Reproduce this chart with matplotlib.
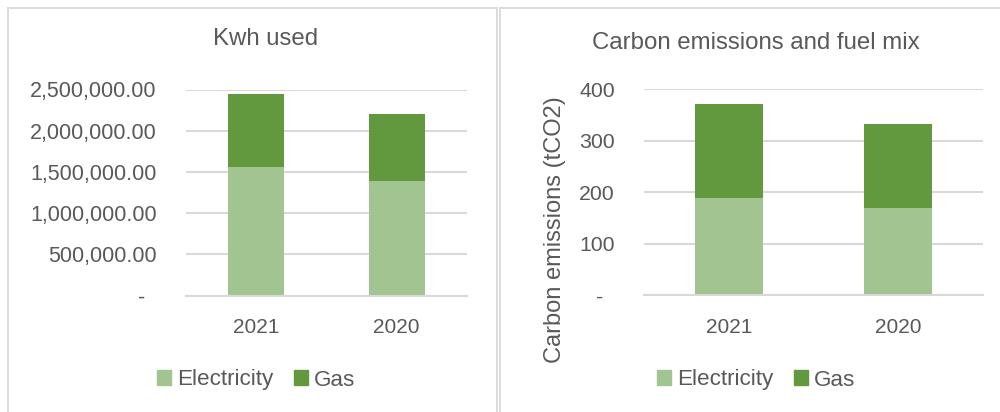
import matplotlib.pyplot as plt
from matplotlib.patches import Rectangle, Patch
from matplotlib.ticker import FuncFormatter

years = ['2021', '2020']
kwh_electricity = [1560000, 1390000]
kwh_gas = [880000, 810000]
co2_electricity = [189, 170]
co2_gas = [182, 163]

light = '#a2c490'
dark = '#62993e'
grey = '#595959'
grid = '#d9d9d9'

plt.rcParams['font.family'] = ['Liberation Sans', 'DejaVu Sans']
plt.rcParams['text.color'] = grey

W, H = 1000, 412
fig = plt.figure(figsize=(W / 100, H / 100), dpi=100)


def box(x0, x1, y0, y1):
    return [x0 / W, 1 - y1 / H, (x1 - x0) / W, (y1 - y0) / H]


# panel borders
for x0, x1 in [(8, 497), (500, 1005)]:
    fig.patches.append(Rectangle((x0 / W, -0.05), (x1 - x0) / W, 1 - 8 / H + 0.05,
                                 transform=fig.transFigure, fill=False,
                                 edgecolor=grid, linewidth=1.3))


def style(ax, ymax, step):
    ax.set_ylim(0, ymax)
    ax.set_yticks(range(0, ymax + 1, step))
    ax.set_xlim(-0.5, 1.5)
    ax.set_xticks([0, 1], years)
    ax.grid(axis='y', color=grid, linewidth=1.5)
    ax.set_axisbelow(True)
    for s in ['top', 'right', 'left']:
        ax.spines[s].set_visible(False)
    ax.spines['bottom'].set_color(grid)
    ax.spines['bottom'].set_linewidth(1.5)
    ax.tick_params(length=0, colors=grey)
    ax.tick_params(axis='y', pad=21)
    ax.tick_params(axis='x', pad=16, labelsize=15)


# left: kWh used
ax1 = fig.add_axes(box(186, 467, 89.5, 295.5))
ax1.bar(range(2), kwh_electricity, width=0.4, color=light)
ax1.bar(range(2), kwh_gas, width=0.4, bottom=kwh_electricity, color=dark)
style(ax1, 2500000, 500000)
ax1.tick_params(axis='y', labelsize=15.5)
ax1.yaxis.set_major_formatter(FuncFormatter(lambda v, p: '-  ' if v == 0 else f'{v:,.2f}'))
fig.text(266 / W, 1 - 39 / H, 'Kwh used', ha='center', va='center', fontsize=17.3)

# right: carbon emissions
ax2 = fig.add_axes(box(644, 983, 89.3, 295.3))
ax2.bar(range(2), co2_electricity, width=0.4, color=light)
ax2.bar(range(2), co2_gas, width=0.4, bottom=co2_electricity, color=dark)
style(ax2, 400, 100)
ax2.tick_params(axis='y', labelsize=15.3)
ax2.yaxis.set_major_formatter(FuncFormatter(lambda v, p: '-  ' if v == 0 else f'{int(v)}'))
ax2.set_ylabel('Carbon emissions (tCO2)', fontsize=17, color=grey)
ax2.yaxis.set_label_coords((566 - 644) / (983 - 644), (295.3 - 230) / 206)
fig.text(756 / W, 1 - 43 / H, 'Carbon emissions and fuel mix', ha='center', va='center',
         fontsize=17.3)

handles = [Patch(color=light, label='Electricity'), Patch(color=dark, label='Gas')]
for cx in [256, 756]:
    fig.legend(handles=handles, loc='center', bbox_to_anchor=(cx / W, 1 - 380 / H),
               ncol=2, frameon=False, fontsize=16.2, handlelength=0.62, handleheight=0.62,
               handletextpad=0.27, columnspacing=0.93, labelcolor=grey)

fig.savefig('out.png', dpi=100)
